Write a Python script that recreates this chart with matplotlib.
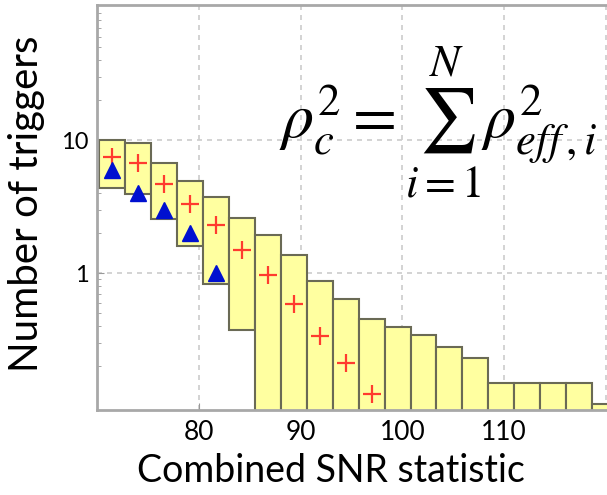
import numpy as np
import matplotlib
matplotlib.use("Agg")
import matplotlib.pyplot as plt
from matplotlib.ticker import LogLocator, NullFormatter

plt.rcParams['font.family'] = ['Lato', 'DejaVu Sans']
plt.rcParams['mathtext.fontset'] = 'stix'

# histogram bins of the combined SNR statistic
bin_start = 70.2
bin_width = 2.55
n_bins = 20

# background range per bin (lower / upper edge of each box)
bkg_upper = [10.0, 9.5, 6.7, 4.9, 3.7, 2.6, 1.93, 1.37, 0.87, 0.64,
             0.45, 0.39, 0.34, 0.28, 0.23, 0.15, 0.15, 0.15, 0.15, 0.104]
bkg_lower = [4.36, 3.93, 2.55, 1.6, 0.83, 0.373, 0.001, 0.001, 0.001, 0.001,
             0.001, 0.001, 0.001, 0.001, 0.001, 0.001, 0.001, 0.001, 0.001, 0.001]

# expected background (red crosses)
bkg_expected = [7.45, 6.7, 4.67, 3.3, 2.3, 1.49, 0.96, 0.585, 0.336, 0.21, 0.123]

# observed triggers (blue triangles)
observed = [6, 4, 3, 2, 1]

edges = bin_start + bin_width * np.arange(n_bins)
centers = edges + bin_width / 2

fig = plt.figure(figsize=(6.07, 4.95), dpi=100)
ax = fig.add_axes([0.1598, 0.1717, 0.8402, 0.8182])

ax.bar(edges, np.array(bkg_upper) - np.array(bkg_lower), bottom=bkg_lower,
       width=bin_width, align='edge', color='#ffffa0',
       edgecolor='#6a6a55', linewidth=1.5, zorder=2)

ax.plot(centers[:len(bkg_expected)], bkg_expected, linestyle='none', marker='+',
        markersize=13, markeredgewidth=1.6, color='#ff3b2f', zorder=3)
ax.plot(centers[:len(observed)], observed, linestyle='none', marker='^',
        markersize=12, color='#0010d0', zorder=4)

ax.set_yscale('log')
ax.set_xlim(70, 120.1)
ax.set_ylim(10 ** -1.03, 10 ** 2.015)

ax.set_xticks([80, 90, 100, 110, 120])
ax.set_xticklabels(['80', '90', '100', '110', ''])
ax.set_yticks([1, 10])
ax.set_yticklabels(['1', '10'])
ax.yaxis.set_minor_locator(LogLocator(base=10, subs=np.arange(2, 10)))
ax.yaxis.set_minor_formatter(NullFormatter())

ax.grid(True, which='major', linestyle=(0, (3, 3)), color='#cccccc', linewidth=1.2, zorder=0)
ax.set_axisbelow(True)

ax.tick_params(axis='both', which='both', direction='in', color='#999999')
ax.tick_params(axis='x', length=5, labelsize=19, pad=7)
ax.tick_params(axis='y', which='major', length=5, labelsize=17, pad=6)
ax.tick_params(axis='y', which='minor', length=3)

for side in ['left', 'bottom', 'top']:
    ax.spines[side].set_color('#a8a8a8')
    ax.spines[side].set_linewidth(2)
ax.spines['right'].set_visible(False)

ax.set_xlabel('Combined SNR statistic', fontsize=27)
ax.xaxis.set_label_coords(0.459, -0.105)
ax.set_ylabel('Number of triggers', fontsize=29)
ax.yaxis.set_label_coords(-0.102, 0.51)

ax.text(0.357, 0.71, r'$\rho_c^2 = \sum_{i=1}^{N} \rho_{eff\,,i}^2$',
        transform=ax.transAxes, fontsize=46, ha='left', va='center', zorder=5)

fig.savefig('out.png', dpi=100)
